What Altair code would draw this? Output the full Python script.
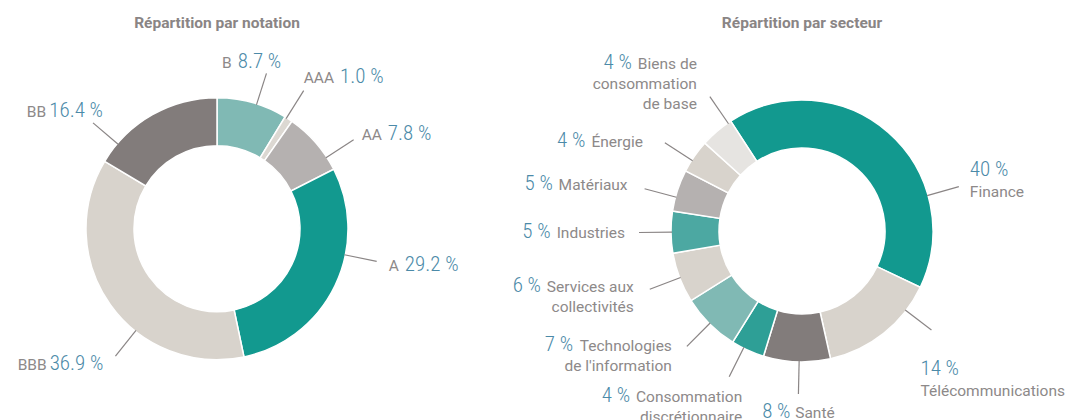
import math
import altair as alt
import pandas as pd

# ---------------- data ----------------
titles = ["Répartition par notation", "Répartition par secteur"]

rating_names = ["B", "AAA", "AA", "A", "BBB", "BB"]
rating_values = [8.7, 1.0, 7.8, 29.2, 36.9, 16.4]
rating_labels = ["8.7 %", "1.0 %", "7.8 %", "29.2 %", "36.9 %", "16.4 %"]

sector_names = ["Finance", "Télécommunications", "Santé", "Consommation discrétionnaire",
                "Technologies de l'information", "Services aux collectivités", "Industries",
                "Matériaux", "Énergie", "Biens de consommation de base"]
sector_lines = [["Finance"], ["Télécommunications"], ["Santé"], ["Consommation", "discrétionnaire"],
                ["Technologies", "de l'information"], ["Services aux", "collectivités"], ["Industries"],
                ["Matériaux"], ["Énergie"], ["Biens de", "consommation", "de base"]]
sector_values = [40, 14, 8, 4, 7, 6, 5, 5, 4, 4]
sector_labels = ["40 %", "14 %", "8 %", "4 %", "7 %", "6 %", "5 %", "5 %", "4 %", "4 %"]

# ---------------- styles / layout ----------------
rating_colors = ["#80b9b4", "#dcd8d2", "#b5b1b0", "#12998f", "#d8d3cc", "#827c7b"]
sector_colors = ["#12998f", "#d8d3cc", "#827c7b", "#2e9f96", "#80b9b4", "#d8d3cc",
                 "#4ca8a2", "#b5b1b0", "#d8d3cc", "#e6e4e1"]

PAD = 8
W, H = 1060, 412
L_CX, L_CY, L_START = 217, 228.7, 0
R_CX, R_CY, R_START = 802, 231, -33
R_OUT, R_IN, LEAD = 131, 83, 32
VAL_SIZE, NAME_SIZE, LINE_H = 21, 15.5, 20
VAL_COLOR, NAME_COLOR, LINE_COLOR = "#4b8aa8", "#8d8989", "#8a8585"
VAL_FONT = "Roboto Condensed, Liberation Sans Narrow, DejaVu Sans Condensed, Roboto"
NAME_FONT = "Roboto"
GAP = 6

# label placement: (angle nudge deg, mode, dx, dy) relative to leader end
rating_place = [(2, "c", -16, -11), (-1, "l", 0, -13), (8, "l", 8, -5),
                (-14, "l", 12, 4), (-16, "r", -12, 8), (-20, "r", 10, -11)]
sector_place = [(33, "l2", 11, -16), (-14, "l2", -11, 39), (-1, "c", 0, 19), (2, "r", 13, 20),
                (0, "r", -15, -1), (0, "r", -16, -3), (0, "r", -14, 0), (-3, "r", -17, -4),
                (-2, "r", -22, -1), (6, "r", -13, -33)]

ROBOTO_W = {' ': .248, 'a': .544, 'b': .561, 'c': .523, 'd': .564, 'e': .530, 'f': .347,
            'g': .561, 'h': .551, 'i': .243, 'j': .239, 'k': .507, 'l': .243, 'm': .876,
            'n': .552, 'o': .570, 'p': .561, 'q': .568, 'r': .338, 's': .516, 't': .327,
            'u': .551, 'v': .484, 'w': .751, 'x': .496, 'y': .473, 'z': .496, "'": .171,
            'é': .530, 'A': .652, 'B': .623, 'E': .568, 'É': .568, 'I': .272, 'M': .852,
            'S': .594, 'T': .597, 'C': .651, 'F': .553}
VAL_W = {'.': .21, ' ': .21, '%': .62}


def w_name(s):
    return sum(ROBOTO_W.get(c, .53) for c in s) * NAME_SIZE


def w_val(s):
    return sum(VAL_W.get(c, .46) for c in s) * VAL_SIZE


def mid_angles(values, start):
    tot, cum, out = sum(values), 0, []
    for v in values:
        out.append(start + (cum + v / 2) / tot * 360)
        cum += v
    return out


leaders, texts = [], []


def add(x, y, text, kind, align):
    texts.append(dict(x=x, y=y + 5.5, text=text, kind=kind, align=align))


def build(cx, cy, start, values, names, labels, place, name_first):
    for ang, nm, lab, (nudge, mode, dx, dy) in zip(mid_angles(values, start), names, labels, place):
        a = math.radians(ang + nudge)
        sx, sy = math.sin(a), -math.cos(a)
        ex, ey = cx + sx * (R_OUT + LEAD), cy + sy * (R_OUT + LEAD)
        leaders.append(dict(x=cx + sx * (R_OUT - 1), y=cy + sy * (R_OUT - 1), x2=ex, y2=ey))
        X, Y = ex + dx, ey + dy
        lines = nm if isinstance(nm, list) else [nm]
        if name_first:
            n = lines[0]
            if mode == "l":
                add(X, Y, n, "name", "left"); add(X + w_name(n) + GAP, Y, lab, "value", "left")
            elif mode == "r":
                add(X, Y, lab, "value", "right"); add(X - w_val(lab) - GAP, Y, n, "name", "right")
            else:
                tot = w_name(n) + GAP + w_val(lab)
                add(X - tot / 2, Y, n, "name", "left")
                add(X - tot / 2 + w_name(n) + GAP, Y, lab, "value", "left")
        else:
            if mode == "r":
                for i, ln in enumerate(lines):
                    add(X, Y + i * LINE_H, ln, "name", "right")
                add(X - w_name(lines[0]) - GAP, Y, lab, "value", "right")
            elif mode == "l2":
                add(X, Y, lab, "value", "left")
                for i, ln in enumerate(lines):
                    add(X, Y + 21 + i * LINE_H, ln, "name", "left")
            else:
                tot = w_val(lab) + GAP + w_name(lines[0])
                add(X - tot / 2, Y, lab, "value", "left")
                add(X - tot / 2 + w_val(lab) + GAP, Y, lines[0], "name", "left")


build(L_CX, L_CY, L_START, rating_values, rating_names, rating_labels, rating_place, True)
build(R_CX, R_CY, R_START, sector_values, sector_lines, sector_labels, sector_place, False)

text_df = pd.DataFrame(texts)
lead_df = pd.DataFrame(leaders)
title_df = pd.DataFrame({"x": [L_CX, R_CX], "y": [28, 28], "text": titles})

xs = alt.Scale(domain=[PAD, PAD + W], range=[0, W])
ys = alt.Scale(domain=[PAD, PAD + H], range=[0, H])
X = lambda f: alt.X(f, scale=xs, axis=None)
Y = lambda f: alt.Y(f, scale=ys, axis=None)


def donut(names, values, colors, cx, cy, start):
    df = pd.DataFrame({"name": names, "value": values, "color": colors, "idx": range(len(values))})
    a0 = math.radians(start)
    return alt.Chart(df).mark_arc(outerRadius=R_OUT, innerRadius=R_IN, stroke="white",
                                  strokeWidth=1.5).encode(
        theta=alt.Theta("value:Q", stack=True, scale=alt.Scale(range=[a0, a0 + 2 * math.pi])),
        color=alt.Color("color:N", scale=None),
        order=alt.Order("idx:Q"),
        x=alt.value(cx - PAD), y=alt.value(cy - PAD),
    )


layers = [
    donut(rating_names, rating_values, rating_colors, L_CX, L_CY, L_START),
    donut(sector_names, sector_values, sector_colors, R_CX, R_CY, R_START),
    alt.Chart(lead_df).mark_rule(color=LINE_COLOR, strokeWidth=1.2).encode(
        x=X("x:Q"), y=Y("y:Q"), x2="x2:Q", y2="y2:Q"),
    alt.Chart(title_df).mark_text(font=NAME_FONT, fontSize=15.5, fontWeight="bold",
                                  color="#8a8585", align="center", baseline="alphabetic").encode(
        x=X("x:Q"), y=Y("y:Q"), text="text:N"),
]
for kind in ["value", "name"]:
    for align in ["left", "right"]:
        sub = text_df[(text_df["kind"] == kind) & (text_df["align"] == align)]
        if sub.empty:
            continue
        if kind == "value":
            style = dict(font=VAL_FONT, fontSize=VAL_SIZE, fontWeight=300, color=VAL_COLOR)
        else:
            style = dict(font=NAME_FONT, fontSize=NAME_SIZE, color=NAME_COLOR)
        layers.append(alt.Chart(sub).mark_text(align=align, baseline="alphabetic", **style).encode(
            x=X("x:Q"), y=Y("y:Q"), text="text:N"))

chart = alt.layer(*layers).resolve_scale(theta="independent").properties(
    width=W, height=H, padding=0, autosize=alt.AutoSizeParams(type="none")
).configure_view(stroke=None)

chart.save("out.html", embed_options={"renderer": "svg", "actions": False})
